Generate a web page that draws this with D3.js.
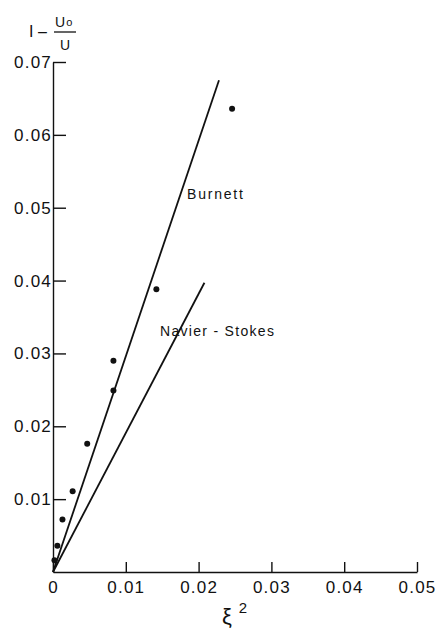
<!DOCTYPE html>
<html>
<head>
<meta charset="utf-8">
<script src="https://cdn.jsdelivr.net/npm/d3@7"></script>
<style>
  body { margin: 0; background: #fff; }
  svg text { font-family: "Liberation Sans", Arial, sans-serif; fill: #111; }
</style>
</head>
<body>
<div id="chart"></div>
<script>
const width = 438, height = 628;

// data
const xTicks = [0, 0.01, 0.02, 0.03, 0.04, 0.05];
const yTicks = [0.01, 0.02, 0.03, 0.04, 0.05, 0.06, 0.07];

const burnett = [[0, 0], [0.0228, 0.0675]];
const navierStokes = [[0, 0], [0.0208, 0.0397]];

const pointsX = [0.0002, 0.0006, 0.0013, 0.0027, 0.0047, 0.0083, 0.0083, 0.0142, 0.0246];
const pointsY = [0.0016, 0.0036, 0.0072, 0.0111, 0.0176, 0.0249, 0.0290, 0.0388, 0.0636];

const svg = d3.select("#chart").append("svg")
  .attr("width", width)
  .attr("height", height);

const x = d3.scaleLinear().domain([0, 0.05]).range([53, 417]);
const y = d3.scaleLinear().domain([0, 0.07]).range([572, 62]);

const fmt = d => d === 0 ? "0" : d3.format(".2f")(d);

// AXES
const gx = svg.append("g")
  .attr("transform", `translate(0,${y(0)})`)
  .call(d3.axisBottom(x).tickValues(xTicks).tickFormat(fmt)
    .tickSizeInner(-10).tickSizeOuter(0).tickPadding(9));

const gy = svg.append("g")
  .attr("transform", `translate(${x(0)},0)`)
  .call(d3.axisLeft(y).tickValues(yTicks).tickFormat(fmt)
    .tickSizeInner(-13).tickSizeOuter(0).tickPadding(1));

[gx, gy].forEach(g => {
  g.selectAll("path, line").attr("stroke", "#111").attr("stroke-width", 1.4);
  g.selectAll("text")
    .attr("fill", "#222")
    .style("font-size", "17px")
    .style("letter-spacing", "1.2px")
    .style("font-family", "'Liberation Sans', Arial, sans-serif");
});

// LINES
const line = d3.line().x(d => x(d[0])).y(d => y(d[1]));

[burnett, navierStokes].forEach(data => {
  svg.append("path")
    .datum(data)
    .attr("fill", "none")
    .attr("stroke", "#111")
    .attr("stroke-width", 1.8)
    .attr("d", line);
});

// POINTS
svg.append("g").selectAll("circle")
  .data(pointsX.map((v, i) => [v, pointsY[i]]))
  .join("circle")
  .attr("cx", d => x(d[0]))
  .attr("cy", d => y(d[1]))
  .attr("r", 3)
  .attr("fill", "#111");

// LABELS
svg.append("text")
  .attr("x", 187).attr("y", 199)
  .style("font-size", "14px")
  .style("letter-spacing", "1.8px")
  .text("Burnett");

svg.append("text")
  .attr("x", 160).attr("y", 336)
  .style("font-size", "14px")
  .style("letter-spacing", "1.3px")
  .text("Navier - Stokes");

// x title
const xt = svg.append("text")
  .attr("x", 222).attr("y", 624)
  .style("font-size", "22px");
xt.append("tspan").text("ξ");
xt.append("tspan").attr("dx", 7).attr("dy", -11).style("font-size", "15px").text("2");

// y title: 1 - U0/U
svg.append("text")
  .attr("x", 29).attr("y", 37)
  .style("font-size", "16px")
  .text("I –");
svg.append("text")
  .attr("x", 55).attr("y", 27)
  .style("font-size", "14px")
  .text("U")
  .append("tspan").attr("dx", 1).attr("dy", -1).style("font-size", "11px").text("o");
svg.append("line")
  .attr("x1", 54).attr("x2", 76)
  .attr("y1", 32).attr("y2", 32)
  .attr("stroke", "#111").attr("stroke-width", 1.3);
svg.append("text")
  .attr("x", 60).attr("y", 50)
  .style("font-size", "14px")
  .text("U");
</script>
</body>
</html>
